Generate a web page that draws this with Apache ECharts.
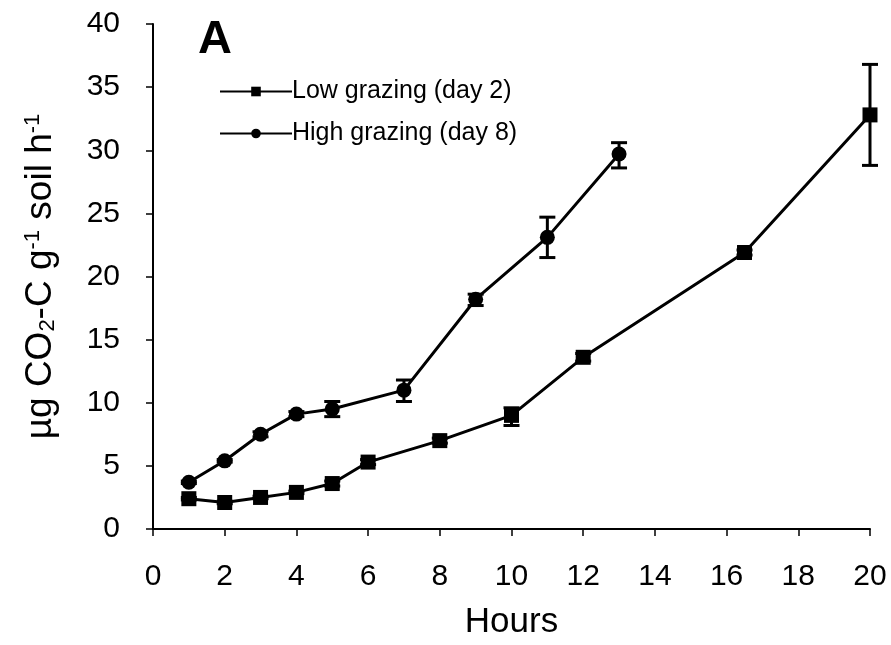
<!DOCTYPE html>
<html>
<head>
<meta charset="utf-8">
<script src="https://cdn.jsdelivr.net/npm/echarts@6/dist/echarts.min.js"></script>
<style>
  html, body { margin: 0; padding: 0; background: #fff; }
  #chart { width: 891px; height: 645px; }
</style>
</head>
<body>
<div id="chart"></div>
<script>
// Low grazing (day 2)
const lowHours = [1, 2, 3, 4, 5, 6, 8, 10, 12, 16.5, 20]
const lowRate = [2.4, 2.1, 2.5, 2.9, 3.6, 5.3, 7.0, 9.0, 13.6, 21.9, 32.8]
const lowErrLo = [2.3, 2.0, 2.4, 2.8, 3.4, 5.1, 6.8, 8.2, 13.3, 21.7, 28.8]
const lowErrHi = [2.5, 2.2, 2.6, 3.0, 3.8, 5.5, 7.2, 9.6, 13.9, 22.1, 36.8]

// High grazing (day 8)
const highHours = [1, 2, 3, 4, 5, 7, 9, 11, 13]
const highRate = [3.7, 5.4, 7.5, 9.1, 9.5, 11.0, 18.2, 23.1, 29.7]
const highErrLo = [3.6, 5.3, 7.3, 8.9, 8.9, 10.1, 17.7, 21.5, 28.6]
const highErrHi = [3.8, 5.5, 7.7, 9.3, 10.1, 11.8, 18.6, 24.7, 30.6]

const xTicks = [0, 2, 4, 6, 8, 10, 12, 14, 16, 18, 20]
const yTicks = [0, 5, 10, 15, 20, 25, 30, 35, 40]

const chart = echarts.init(document.getElementById('chart'))

const errData = (xs, lo, hi) => xs.map((x, i) => [x, lo[i], hi[i]])

// vertical bar with caps at both ends
const errRender = (params, api) => {
  const x = api.value(0)
  const lo = api.coord([x, api.value(1)])
  const hi = api.coord([x, api.value(2)])
  const cap = 8
  const style = { stroke: '#000', lineWidth: 3 }
  return {
    type: 'group',
    children: [
      { type: 'line', shape: { x1: lo[0], y1: lo[1], x2: hi[0], y2: hi[1] }, style },
      { type: 'line', shape: { x1: lo[0] - cap, y1: lo[1], x2: lo[0] + cap, y2: lo[1] }, style },
      { type: 'line', shape: { x1: hi[0] - cap, y1: hi[1], x2: hi[0] + cap, y2: hi[1] }, style }
    ]
  }
}

const font = 'Liberation Sans, Arial, sans-serif'

chart.setOption({
  animation: false,
  backgroundColor: '#fff',
  grid: { left: 153, right: 21, top: 24, bottom: 115 },
  legend: {
    orient: 'vertical',
    left: 214,
    top: 74,
    itemWidth: 72,
    itemHeight: 12,
    itemGap: 17,
    data: ['Low grazing (day 2)', 'High grazing (day 8)'],
    textStyle: { fontFamily: font, fontSize: 25, color: '#000', padding: [0, 0, 0, -5] }
  },
  graphic: [
    {
      type: 'text',
      left: 198,
      top: 17,
      style: { text: 'A', font: 'bold 47px ' + font, fill: '#000' }
    }
  ],
  xAxis: {
    type: 'value',
    min: 0,
    max: 20,
    interval: 2,
    name: 'Hours',
    nameLocation: 'middle',
    nameGap: 76,
    nameTextStyle: { fontFamily: font, fontSize: 35, color: '#000' },
    axisLine: { lineStyle: { color: '#000', width: 2 } },
    axisTick: { show: true, length: 7, lineStyle: { color: '#000', width: 1.5 } },
    axisLabel: {
      fontFamily: font, fontSize: 30, color: '#000', margin: 33,
      formatter: (v) => xTicks.includes(v) ? String(v) : ''
    },
    splitLine: { show: false }
  },
  yAxis: {
    type: 'value',
    min: 0,
    max: 40,
    interval: 5,
    name: '{t|µg CO}{s|2}{t|-C g}{p|-1}{t| soil h}{p|-1}',
    nameLocation: 'middle',
    nameGap: 94,
    nameRotate: 90,
    nameTextStyle: {
      rich: {
        t: { fontFamily: font, fontSize: 37, color: '#000' },
        s: { fontFamily: font, fontSize: 22, color: '#000', verticalAlign: 'bottom', padding: [15, 0, 0, 0] },
        p: { fontFamily: font, fontSize: 22, color: '#000', verticalAlign: 'top', padding: [0, 0, 15, 0] }
      }
    },
    axisLine: { show: true, lineStyle: { color: '#000', width: 2 } },
    axisTick: { show: true, length: 7, lineStyle: { color: '#000', width: 1.5 } },
    axisLabel: {
      fontFamily: font, fontSize: 30, color: '#000', margin: 33,
      formatter: (v) => yTicks.includes(v) ? String(v) : ''
    },
    splitLine: { show: false }
  },
  series: [
    {
      name: 'Low grazing (day 2)',
      type: 'line',
      data: lowHours.map((x, i) => [x, lowRate[i]]),
      symbol: 'rect',
      symbolSize: 15,
      lineStyle: { color: '#000', width: 3 },
      itemStyle: { color: '#000' },
      z: 3
    },
    {
      name: 'High grazing (day 8)',
      type: 'line',
      data: highHours.map((x, i) => [x, highRate[i]]),
      symbol: 'circle',
      symbolSize: 15,
      lineStyle: { color: '#000', width: 3 },
      itemStyle: { color: '#000' },
      z: 3
    },
    {
      type: 'custom',
      renderItem: errRender,
      data: errData(lowHours, lowErrLo, lowErrHi),
      z: 2
    },
    {
      type: 'custom',
      renderItem: errRender,
      data: errData(highHours, highErrLo, highErrHi),
      z: 2
    }
  ]
})
</script>
</body>
</html>
